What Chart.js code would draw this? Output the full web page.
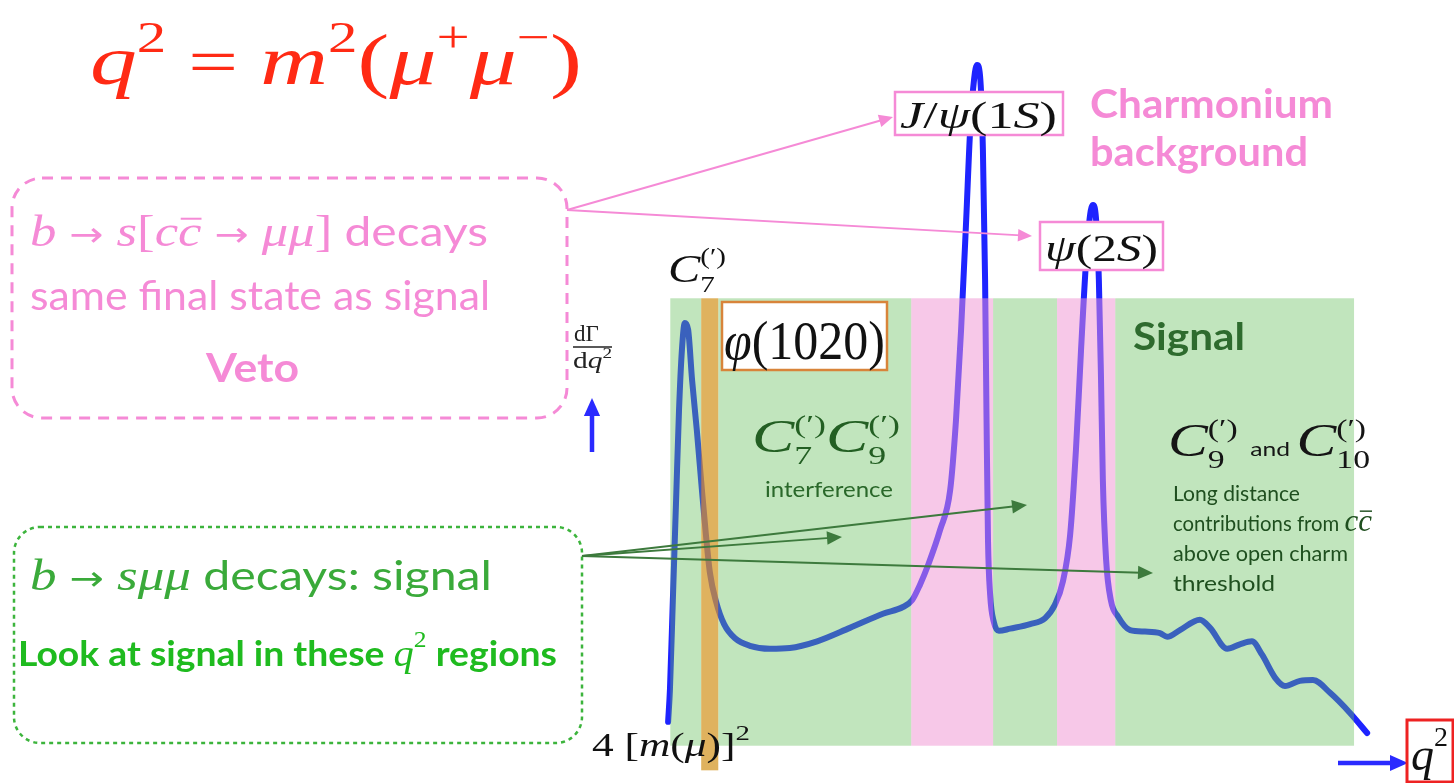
<!DOCTYPE html>
<html>
<head>
<meta charset="utf-8">
<script src="https://cdn.jsdelivr.net/npm/chart.js@4.4.1/dist/chart.umd.min.js"></script>
<style>
  html, body { margin: 0; padding: 0; background: #fff; }
  #graficoQ2 { display: block; }
</style>
</head>
<body>
<canvas id="graficoQ2" width="1454" height="783"></canvas>
<script>
// q2 (arbitrary units) and dGamma/dq2 (arbitrary units)
const q2 = [0.03, 0.08, 0.16, 0.25, 0.33, 0.41, 0.49, 0.58, 0.69, 0.82, 0.96, 1.07, 1.18, 1.35, 1.57, 1.87,
    2.28, 2.83, 3.38, 4.13, 5.03, 5.94, 6.49, 6.74, 6.96, 7.18, 7.51, 7.79, 7.95, 8.09, 8.23, 8.34, 8.45,
    8.53, 8.61, 8.69, 8.75, 8.79, 8.83, 8.89, 8.99, 9.13, 9.44, 9.99, 10.40, 10.67, 10.89, 11.09, 11.25,
    11.39, 11.53, 11.64, 11.72, 11.80, 11.88, 11.94, 11.99, 12.08, 12.21, 12.41, 12.74, 13.15, 13.56,
    13.76, 14.11, 14.66, 14.94, 15.41, 15.76, 16.09, 16.37, 16.73, 17.00, 17.41, 17.77, 18.24, 18.79, 19.26];
const dGamma = [3.2, 7.5, 19.5, 33.0, 45.0, 53.1, 56.7, 55.8, 49.0, 42.3, 34.3, 28.3, 23.2, 19.3, 16.3, 14.4,
    13.4, 13.0, 13.1, 14.0, 15.8, 17.7, 18.6, 19.5, 21.6, 24.2, 28.9, 34.3, 43.7, 55.8, 70.5, 82.6, 89.5,
    91.3, 89.9, 79.9, 62.5, 43.7, 27.6, 20.2, 16.6, 15.4, 15.7, 16.3, 17.1, 18.9, 22.0, 28.3, 39.7,
    53.1, 65.1, 71.2, 72.5, 70.8, 62.5, 49.0, 35.6, 24.9, 19.5, 17.3, 15.5, 15.3, 15.1,
    14.6, 15.5, 16.9, 15.8, 13.0, 13.6, 14.0, 12.2, 9.1, 8.0, 8.7, 8.8, 7.1, 4.4, 1.7];

// q2 regions
const signalRange = [0.09, 18.9];
const vetoRanges = [[6.72, 8.97], [10.73, 12.33]];
const phiRange = [0.94, 1.41];
const bandTop = 60;
const phiBottom = -3.3;

const SERIF = "'Liberation Serif', 'DejaVu Serif', serif";
const SANS = "Lato, 'Open Sans', sans-serif";
const it = s => `italic ${s}px ${SERIF}`;
const up = s => `${s}px ${SERIF}`;
const ar = s => `${s}px 'DejaVu Sans', sans-serif`;
const sans = s => `${s}px ${SANS}`;
const bold = s => `bold ${s}px ${SANS}`;

const PINK = '#f58ad6';
const DARKGREEN = '#235f23';

// draws a row of text pieces (math + text), stretched to width if given
function runs(ctx, x, y, items, color, width) {
    ctx.save();
    ctx.fillStyle = color;
    ctx.strokeStyle = color;
    ctx.textBaseline = 'alphabetic';
    const w = items.map(p => { ctx.font = p.f; return ctx.measureText(p.t).width; });
    let total = 0, pend = 0;
    items.forEach((p, i) => {
        if (p.keep) { pend = w[i]; return; }
        total += Math.max(w[i], pend); pend = 0;
    });
    const s = width ? width / total : 1;
    ctx.translate(x, y);
    ctx.scale(s, 1);
    let cx = 0;
    pend = 0;
    items.forEach((p, i) => {
        ctx.font = p.f;
        ctx.fillText(p.t, cx, p.dy || 0);
        if (p.over) {
            const size = parseFloat(p.f.match(/(\d+(\.\d+)?)px/)[1]);
            ctx.lineWidth = Math.max(1.2, size / 22);
            ctx.beginPath();
            ctx.moveTo(cx + size * 0.05, -size * 0.62);
            ctx.lineTo(cx + w[i], -size * 0.62);
            ctx.stroke();
        }
        if (p.keep) { pend = w[i]; return; }
        cx += Math.max(w[i], pend);
        pend = 0;
    });
    ctx.restore();
}

function arrow(ctx, x0, y0, x1, y1, color, width, head) {
    const a = Math.atan2(y1 - y0, x1 - x0);
    ctx.save();
    ctx.strokeStyle = color;
    ctx.fillStyle = color;
    ctx.lineWidth = width;
    ctx.beginPath();
    ctx.moveTo(x0, y0);
    ctx.lineTo(x1 - Math.cos(a) * head * 0.8, y1 - Math.sin(a) * head * 0.8);
    ctx.stroke();
    ctx.beginPath();
    ctx.moveTo(x1, y1);
    ctx.lineTo(x1 - head * Math.cos(a) + head * 0.45 * Math.sin(a), y1 - head * Math.sin(a) - head * 0.45 * Math.cos(a));
    ctx.lineTo(x1 - head * Math.cos(a) - head * 0.45 * Math.sin(a), y1 - head * Math.sin(a) + head * 0.45 * Math.cos(a));
    ctx.closePath();
    ctx.fill();
    ctx.restore();
}

function box(ctx, x, y, w, h, stroke, lw) {
    ctx.save();
    ctx.fillStyle = '#fff';
    ctx.fillRect(x, y, w, h);
    ctx.strokeStyle = stroke;
    ctx.lineWidth = lw;
    ctx.strokeRect(x, y, w, h);
    ctx.restore();
}

const bandsPlugin = {
    id: 'bands',
    afterDatasetsDraw(chart) {
        const { ctx, scales: { x, y } } = chart;
        const rect = (x0, x1, y0, y1, color) => {
            const px0 = x.getPixelForValue(x0), px1 = x.getPixelForValue(x1);
            const py0 = y.getPixelForValue(y1), py1 = y.getPixelForValue(y0);
            ctx.fillStyle = color;
            ctx.fillRect(px0, py0, px1 - px0, py1 - py0);
        };
        ctx.save();
        // green pieces, leaving out the phi and veto strips
        const edges = [signalRange[0], ...phiRange, ...vetoRanges.flat(), signalRange[1]];
        for (let i = 0; i < edges.length; i += 2) {
            rect(edges[i], edges[i + 1], 0, bandTop, 'rgba(100,190,90,0.4)');
        }
        vetoRanges.forEach(r => rect(r[0], r[1], 0, bandTop, 'rgba(240,145,210,0.5)'));
        rect(phiRange[0], phiRange[1], phiBottom, bandTop, 'rgba(212,152,40,0.75)');
        ctx.restore();
    }
};

const notesPlugin = {
    id: 'notes',
    afterDraw(chart) {
        const ctx = chart.ctx;

        // title
        runs(ctx, 90, 84, [
            { t: 'q', f: it(70) }, { t: '2', f: up(44), dy: -32 },
            { t: ' = ', f: up(66) },
            { t: 'm', f: it(70) }, { t: '2', f: up(44), dy: -32 },
            { t: '(', f: up(72) }, { t: 'μ', f: it(70) }, { t: '+', f: up(44), dy: -32 },
            { t: 'μ', f: it(70) }, { t: '−', f: up(44), dy: -32 }, { t: ')', f: up(72) }
        ], '#ff2a14', 492);

        // pink veto box
        ctx.save();
        ctx.strokeStyle = PINK;
        ctx.lineWidth = 3;
        ctx.setLineDash([11, 8]);
        ctx.beginPath();
        ctx.roundRect(12, 178, 555, 240, 30);
        ctx.stroke();
        ctx.restore();
        runs(ctx, 30, 246, [
            { t: 'b', f: it(44) }, { t: ' → ', f: ar(34) }, { t: 's', f: it(44) }, { t: '[', f: up(44) },
            { t: 'c', f: it(44) }, { t: 'c', f: it(44), over: true }, { t: ' → ', f: ar(34) },
            { t: 'μμ', f: it(44) }, { t: ']', f: up(44) }, { t: ' decays', f: sans(40) }
        ], PINK, 458);
        runs(ctx, 30, 310, [{ t: 'same final state as signal', f: sans(40) }], PINK, 460);
        runs(ctx, 206, 382, [{ t: 'Veto', f: bold(40) }], PINK, 93);

        // green signal box
        ctx.save();
        ctx.strokeStyle = '#3cb43c';
        ctx.lineWidth = 2.5;
        ctx.setLineDash([4, 4]);
        ctx.beginPath();
        ctx.roundRect(14, 527, 568, 216, 26);
        ctx.stroke();
        ctx.restore();
        runs(ctx, 30, 590, [
            { t: 'b', f: it(44) }, { t: ' → ', f: ar(34) }, { t: 'sμμ', f: it(44) },
            { t: ' decays: signal', f: sans(40) }
        ], '#3aaa3a', 462);
        runs(ctx, 18, 666, [
            { t: 'Look at signal in these ', f: bold(35) }, { t: 'q', f: it(38) },
            { t: '2', f: up(24), dy: -19 }, { t: ' regions', f: bold(35) }
        ], '#1fbb1f', 539);

        // axis labels
        runs(ctx, 574, 341, [{ t: 'dΓ', f: up(23) }], '#222');
        ctx.save();
        ctx.strokeStyle = '#222';
        ctx.lineWidth = 1.3;
        ctx.beginPath();
        ctx.moveTo(573, 347);
        ctx.lineTo(612, 347);
        ctx.stroke();
        ctx.restore();
        runs(ctx, 573, 368, [{ t: 'd', f: up(23) }, { t: 'q', f: it(23) }, { t: '2', f: up(15), dy: -10 }], '#222', 39);
        arrow(ctx, 592, 452, 592, 398, '#2a2aff', 4.5, 18);

        runs(ctx, 592, 756, [
            { t: '4 [', f: up(33) }, { t: 'm', f: it(33) }, { t: '(', f: up(33) }, { t: 'μ', f: it(33) },
            { t: ')]', f: up(33) }, { t: '2', f: up(22), dy: -16 }
        ], '#111', 158);

        arrow(ctx, 1338, 763, 1408, 763, '#2a2aff', 4.5, 18);
        ctx.save();
        ctx.strokeStyle = '#ee2222';
        ctx.lineWidth = 3;
        ctx.strokeRect(1407, 720, 46, 62);
        ctx.restore();
        runs(ctx, 1411, 770, [{ t: 'q', f: it(46) }, { t: '2', f: up(28), dy: -24 }], '#111');

        // C7 label above the band
        runs(ctx, 668, 282, [
            { t: 'C', f: it(40) }, { t: '7', f: up(24), dy: 10, keep: true }, { t: '(′)', f: up(24), dy: -18 }
        ], '#111', 58);

        // phi(1020)
        box(ctx, 722, 302, 165, 68, '#d8843a', 2.5);
        runs(ctx, 724, 359, [{ t: 'φ', f: it(54) }, { t: '(1020)', f: up(54) }], '#111', 161);

        // interference label
        runs(ctx, 752, 452, [
            { t: 'C', f: it(46) }, { t: '7', f: up(26), dy: 12, keep: true }, { t: '(′)', f: up(26), dy: -19 },
            { t: 'C', f: it(46) }, { t: '9', f: up(26), dy: 12, keep: true }, { t: '(′)', f: up(26), dy: -19 }
        ], DARKGREEN, 148);
        runs(ctx, 765, 497, [{ t: 'interference', f: sans(22) }], '#2a682a', 128);

        // charmonium
        arrow(ctx, 567, 210, 893, 117, PINK, 2, 14);
        arrow(ctx, 567, 210, 1032, 236, PINK, 2, 14);
        box(ctx, 895, 92, 168, 43, PINK, 2.5);
        runs(ctx, 900, 128, [
            { t: 'J', f: it(38) }, { t: '/', f: up(38) }, { t: 'ψ', f: it(38) }, { t: '(1', f: up(38) },
            { t: 'S', f: it(38) }, { t: ')', f: up(38) }
        ], '#111', 157);
        box(ctx, 1040, 222, 123, 48, PINK, 2.5);
        runs(ctx, 1045, 261, [
            { t: 'ψ', f: it(38) }, { t: '(2', f: up(38) }, { t: 'S', f: it(38) }, { t: ')', f: up(38) }
        ], '#111', 113);
        runs(ctx, 1090, 118, [{ t: 'Charmonium', f: bold(40) }], PINK, 243);
        runs(ctx, 1090, 166, [{ t: 'background', f: bold(40) }], PINK, 218);

        // signal region notes
        runs(ctx, 1133, 350, [{ t: 'Signal', f: bold(38) }], '#2e6b2e', 112);
        runs(ctx, 1168, 456, [
            { t: 'C', f: it(46) }, { t: '9', f: up(26), dy: 12, keep: true }, { t: '(′)', f: up(26), dy: -19 },
            { t: '  and ', f: sans(19) },
            { t: 'C', f: it(46) }, { t: '10', f: up(26), dy: 12, keep: true }, { t: '(′)', f: up(26), dy: -19 }
        ], '#151515', 202);
        const ld = '#1f4f1f';
        runs(ctx, 1173, 501, [{ t: 'Long distance', f: sans(21) }], ld, 127);
        runs(ctx, 1173, 531, [{ t: 'contributions from ', f: sans(21) }, { t: 'c', f: it(32) }, { t: 'c', f: it(32), over: true }], ld, 199);
        runs(ctx, 1173, 561, [{ t: 'above open charm', f: sans(21) }], ld, 175);
        runs(ctx, 1173, 591, [{ t: 'threshold', f: sans(21) }], ld, 102);

        const ga = '#3d7a3d';
        arrow(ctx, 582, 556, 1027, 505, ga, 2, 15);
        arrow(ctx, 582, 556, 842, 537, ga, 2, 15);
        arrow(ctx, 582, 556, 1153, 573, ga, 2, 15);
    }
};

const ctx = document.getElementById('graficoQ2').getContext('2d');

const graficoQ2 = new Chart(ctx, {
    type: 'line',
    data: {
        datasets: [{
            label: 'dΓ/dq²',
            data: q2.map((x, i) => ({ x: x, y: dGamma[i] })),
            borderColor: '#1e24ff',
            borderWidth: 6,
            borderCapStyle: 'round',
            borderJoinStyle: 'round',
            pointRadius: 0,
            cubicInterpolationMode: 'monotone',
            fill: false
        }]
    },
    options: {
        responsive: false,
        animation: false,
        devicePixelRatio: 1,
        layout: { padding: 0 },
        plugins: {
            legend: { display: false },
            tooltip: { enabled: false }
        },
        scales: {
            x: { type: 'linear', min: -18.35, max: 21.65, display: false },
            y: { min: -5, max: 100, display: false }
        }
    },
    plugins: [bandsPlugin, notesPlugin]
});
</script>
</body>
</html>
